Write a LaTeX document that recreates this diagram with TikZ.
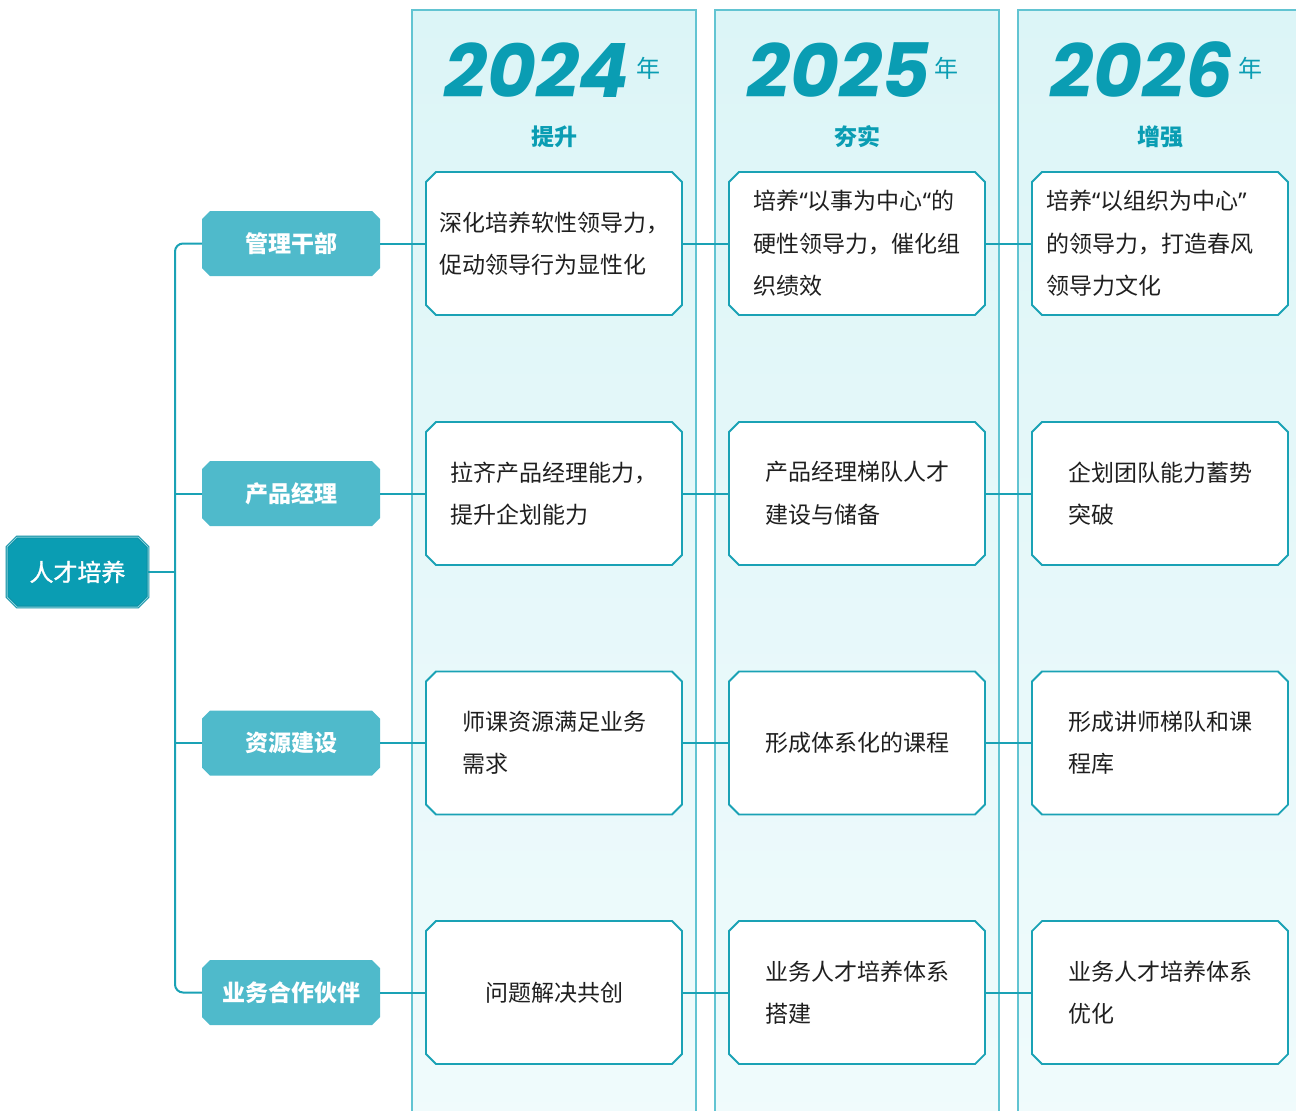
\documentclass[tikz,border=0pt]{standalone}
\usepackage{fontspec}
\setmainfont{Noto Sans CJK SC}
\newfontfamily\yearfont{Poppins}
\newfontfamily\quotefont{Noto Sans}
\newfontfamily\rootfont{Noto Sans CJK SC}[FakeBold=1.2]
\usetikzlibrary{shapes.misc,positioning,calc}

\definecolor{tcdeep}{HTML}{0A9DB3}
\definecolor{tccat}{HTML}{4FBACB}
\definecolor{tcline}{HTML}{1AA2B5}
\definecolor{tcedge}{HTML}{0C8CA1}
\definecolor{tcinner}{HTML}{86D3DE}
\definecolor{colrule}{HTML}{62C4D2}
\definecolor{colbgtop}{HTML}{DCF5F7}
\definecolor{colbgbot}{HTML}{F0FBFC}
\definecolor{celltext}{HTML}{1F1F1F}

\newcommand\qm[1]{{\quotefont #1}}

\tikzset{
  colbg/.style={chamfered rectangle, chamfered rectangle sep=5pt, draw=colrule, line width=1.2pt,
    top color=colbgtop, bottom color=colbgbot, minimum width=284pt, minimum height=1120pt, inner sep=0pt},
  cell/.style={chamfered rectangle, chamfered rectangle sep=5pt, draw=tcline, line width=1.8pt, fill=white,
    minimum width=256pt, minimum height=143pt, inner sep=0pt, align=left, text=celltext,
    font={\fontsize{23pt}{42.5pt}\selectfont}},
  cat/.style={chamfered rectangle, chamfered rectangle sep=4pt, fill=tccat, draw=none,
    minimum width=178pt, minimum height=65pt, inner sep=0pt, text=white,
    font={\fontsize{23pt}{23pt}\selectfont\bfseries}},
  rootbox/.style={chamfered rectangle, chamfered rectangle sep=5pt, fill=tcdeep, draw=tcedge,
    double=tcinner, double distance=1pt, line width=0.8pt,
    minimum width=141pt, minimum height=70pt, inner sep=0pt, text=white,
    font={\rootfont\fontsize{24pt}{24pt}\selectfont}},
  yeartext/.style={text=tcdeep, inner sep=0pt, font={\yearfont\bfseries\itshape\fontsize{75pt}{75pt}\selectfont}},
  yearunit/.style={text=tcdeep, inner sep=0pt, font={\fontsize{24pt}{24pt}\selectfont}},
  phase/.style={text=tcdeep, inner sep=0pt, font={\fontsize{23pt}{23pt}\selectfont\bfseries}},
  link/.style={draw=tcline, line width=2pt}
}

\begin{document}
\begin{tikzpicture}[x=1pt,y=-1pt]
    \path[clip] (0,0) rectangle (1296,1111);

    % year columns
    \node[colbg] (col1) at (554,570) {};
    \node[colbg] (col2) at (857,570) {};
    \node[colbg] (col3) at (1160,570) {};

    \node[yeartext] (yr1) at (537,70) {2024};
    \node[yearunit] (yu1) at (648,68) {年};
    \node[phase] (ph1) at (554,137) {提升};

    \node[yeartext] (yr2) at (839,70) {2025};
    \node[yearunit] (yu2) at (946,68) {年};
    \node[phase] (ph2) at (857,137) {夯实};

    \node[yeartext] (yr3) at (1142,70) {2026};
    \node[yearunit] (yu3) at (1250,68) {年};
    \node[phase] (ph3) at (1160,137) {增强};

    % tree on the left
    \node[rootbox] (root) at (77.5,572) {人才培养};
    \coordinate (trunk) at (175,572);

    \node[cat] (k1) at (291,243.5) {管理干部};
    \node[cat] (k2) at (291,493.5) {产品经理};
    \node[cat] (k3) at (291,743) {资源建设};
    \node[cat] (k4) at (291,992.5) {业务合作伙伴};

    \draw[link, rounded corners=8pt] (k1.west) -| (trunk) |- (k4.west);
    \draw[link] (root.east) -- (trunk);
    \draw[link] (k2.west) -- (k2.west -| trunk);
    \draw[link] (k3.west) -- (k3.west -| trunk);

    % row 1
    \node[cell] (c11) at (554,243.5) {深化培养软性领导力，\\促动领导行为显性化};
    \node[cell] (c12) at (857,243.5) {培养\qm{“}以事为中心\qm{“}的\\硬性领导力，催化组\\织绩效};
    \node[cell, text width=228pt] (c13) at (1160,243.5) {培养\qm{“}以组织为中心\qm{”}\\的领导力，打造春风\\领导力文化};

    % row 2
    \node[cell] (c21) at (554,493.5) {拉齐产品经理能力，\\提升企划能力};
    \node[cell] (c22) at (857,493.5) {产品经理梯队人才\\建设与储备};
    \node[cell] (c23) at (1160,493.5) {企划团队能力蓄势\\突破};

    % row 3
    \node[cell] (c31) at (554,743) {师课资源满足业务\\需求};
    \node[cell] (c32) at (857,743) {形成体系化的课程};
    \node[cell] (c33) at (1160,743) {形成讲师梯队和课\\程库};

    % row 4
    \node[cell] (c41) at (554,992.5) {问题解决共创};
    \node[cell] (c42) at (857,992.5) {业务人才培养体系\\搭建};
    \node[cell] (c43) at (1160,992.5) {业务人才培养体系\\优化};

    \draw[link] (k1.east) -- (c11.west);
    \draw[link] (c11.east) -- (c12.west);
    \draw[link] (c12.east) -- (c13.west);

    \draw[link] (k2.east) -- (c21.west);
    \draw[link] (c21.east) -- (c22.west);
    \draw[link] (c22.east) -- (c23.west);

    \draw[link] (k3.east) -- (c31.west);
    \draw[link] (c31.east) -- (c32.west);
    \draw[link] (c32.east) -- (c33.west);

    \draw[link] (k4.east) -- (c41.west);
    \draw[link] (c41.east) -- (c42.west);
    \draw[link] (c42.east) -- (c43.west);
\end{tikzpicture}
\end{document}
